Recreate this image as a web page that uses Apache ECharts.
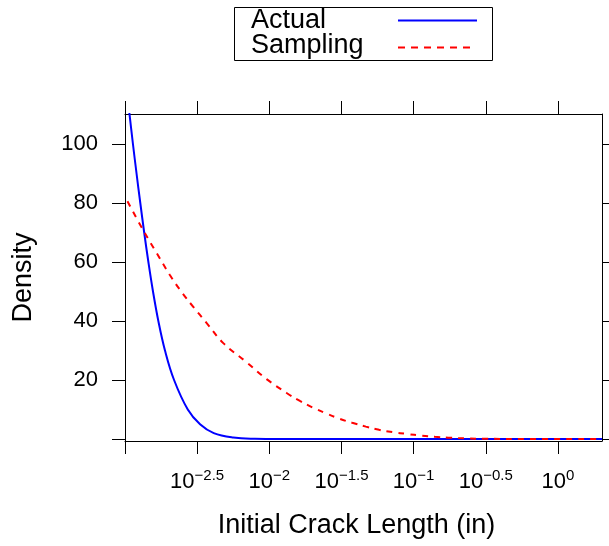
<!DOCTYPE html>
<html>
<head>
<meta charset="utf-8">
<script src="https://cdn.jsdelivr.net/npm/echarts@6/dist/echarts.min.js"></script>
<style>html,body{margin:0;padding:0;background:#fff;}#chart{width:609px;height:546px;}</style>
</head>
<body>
<div id="chart"></div>
<script>
// x values are log10(initial crack length in inches)
const xTickValues = [-3, -2.5, -2, -1.5, -1, -0.5, 0];
const xLabelValues = [-2.5, -2, -1.5, -1, -0.5, 0];
const yTickValues = [0, 20, 40, 60, 80, 100];
const yLabelValues = [20, 40, 60, 80, 100];

const actualLogX = [-3.0, -2.969, -2.945, -2.920, -2.894, -2.867, -2.838, -2.806, -2.769, -2.723, -2.66, -2.565, -2.48, -2.385, -2.25, -2.1, -1.9, -1.5, 0.305];
const actualDensity = [123.5, 110.2, 100, 90, 80, 70, 60, 50, 40, 30, 20, 10, 5, 2, 0.5, 0.1, 0.02, 0, 0];

const samplingLogX = [-2.983, -2.873, -2.78, -2.688, -2.60, -2.527, -2.434, -2.319, -2.157, -2.019, -1.88, -1.788, -1.696, -1.608, -1.516, -1.426, -1.331, -1.239, -1.142, -1.045, -0.948, -0.853, -0.761, -0.634, -0.5, -0.3, 0.305];
const samplingDensity = [80.6, 70.7, 63.0, 55.5, 49.3, 44.8, 39.3, 32.5, 26.0, 20.3, 15.6, 12.9, 10.6, 8.7, 6.9, 5.5, 4.2, 3.1, 2.3, 1.7, 1.15, 0.75, 0.45, 0.2, 0.08, 0.02, 0];

const FONT = '"Liberation Sans", Arial, Helvetica, sans-serif';
const zip = (xs, ys) => xs.map((x, i) => [x, ys[i]]);

const chart = echarts.init(document.getElementById('chart'), null, {renderer: 'canvas'});
const axisLineStyle = {show: true, onZero: false, lineStyle: {color: '#000', width: 1}};
const tickStyle = {show: true, inside: false, length: 13, lineStyle: {color: '#000', width: 1}};

const xAxisBase = {
  type: 'value', min: -3, max: 0.305, interval: 0.5,
  splitLine: {show: false}, axisLine: axisLineStyle
};
const yAxisBase = {
  type: 'value', min: -0.68, max: 110.17, interval: 20,
  splitLine: {show: false}, axisLine: axisLineStyle
};

const option = {
  animation: false,
  backgroundColor: '#fff',
  grid: {left: 125, top: 114, right: 7, bottom: 105, containLabel: false},
  xAxis: [
    Object.assign({}, xAxisBase, {
      position: 'bottom',
      name: 'Initial Crack Length (in)', nameLocation: 'middle', nameGap: 71,
      nameTextStyle: {fontSize: 27, fontFamily: FONT, color: '#000', padding: [0, 14, 0, 0]},
      axisTick: Object.assign({customValues: xTickValues}, tickStyle),
      axisLabel: {
        customValues: xLabelValues, margin: 27, color: '#000',
        formatter: function (v) {
          const e = (v === 0 ? '0' : String(v).replace('-', '\u2212'));
          return '{b|10}{s|' + e + '}';
        },
        rich: {
          b: {fontSize: 22, fontFamily: FONT, color: '#000'},
          s: {fontSize: 15, fontFamily: FONT, color: '#000', padding: [0, 0, 12, 0]}
        }
      }
    }),
    Object.assign({}, xAxisBase, {
      position: 'top',
      axisTick: Object.assign({customValues: xTickValues}, tickStyle),
      axisLabel: {show: false}
    })
  ],
  yAxis: [
    Object.assign({}, yAxisBase, {
      position: 'left',
      name: 'Density', nameLocation: 'middle', nameGap: 88, nameRotate: 90,
      nameTextStyle: {fontSize: 27, fontFamily: FONT, color: '#000'},
      axisTick: Object.assign({customValues: yTickValues}, tickStyle),
      axisLabel: {customValues: yLabelValues, margin: 27, fontSize: 22, fontFamily: FONT, color: '#000'}
    }),
    Object.assign({}, yAxisBase, {
      position: 'right',
      axisTick: Object.assign({customValues: yTickValues}, tickStyle),
      axisLabel: {show: false}
    })
  ],
  series: [
    {
      name: 'Actual', type: 'line', xAxisIndex: 0, yAxisIndex: 0,
      data: zip(actualLogX, actualDensity),
      showSymbol: false, smooth: 0.4, clip: true,
      lineStyle: {color: '#0000ff', width: 2}
    },
    {
      name: 'Sampling', type: 'line', xAxisIndex: 0, yAxisIndex: 0,
      data: zip(samplingLogX, samplingDensity),
      showSymbol: false, smooth: 0.4, clip: true,
      lineStyle: {color: '#ff0000', width: 2, type: [6, 6]}
    }
  ],
  graphic: [
    {type: 'rect', shape: {x: 234.5, y: 7.5, width: 258, height: 53}, style: {fill: '#fff', stroke: '#000', lineWidth: 1}},
    {type: 'text', style: {x: 251, y: 21, text: 'Actual', font: '27px ' + FONT, fill: '#000', verticalAlign: 'middle'}},
    {type: 'line', shape: {x1: 398, y1: 20.5, x2: 477, y2: 20.5}, style: {stroke: '#0000ff', lineWidth: 2}},
    {type: 'text', style: {x: 251, y: 46, text: 'Sampling', font: '27px ' + FONT, fill: '#000', verticalAlign: 'middle'}},
    {type: 'line', shape: {x1: 398, y1: 47.5, x2: 476, y2: 47.5}, style: {stroke: '#ff0000', lineWidth: 2, lineDash: [7, 6]}}
  ]
};
chart.setOption(option);
</script>
</body>
</html>
